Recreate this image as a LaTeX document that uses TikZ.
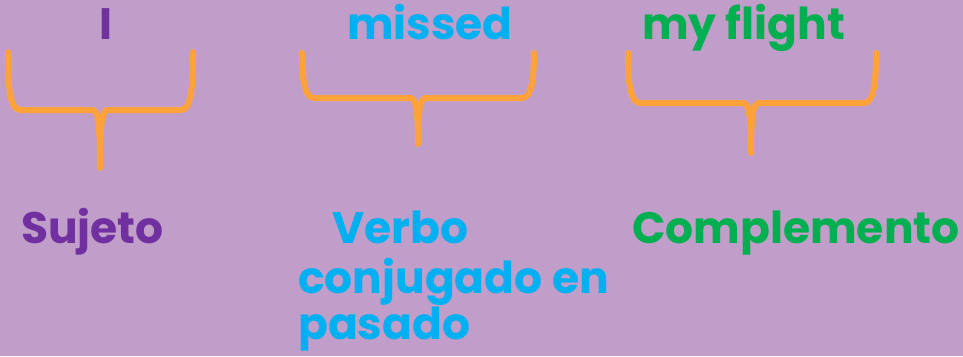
\documentclass[tikz,border=0pt]{standalone}
\usepackage{fontspec}
\setmainfont{Poppins}
\usepackage{tikz}
\definecolor{sentbg}{HTML}{C19DC9}
\definecolor{braceorange}{HTML}{FFA239}
\definecolor{subjpurple}{HTML}{7030A0}
\definecolor{verbblue}{HTML}{00B0F0}
\definecolor{complgreen}{HTML}{00B050}
% brace: left x, top y, right x, bar y, centre x, tip y
\newcommand{\sentbrace}[6]{%
  \draw[bracewire] (#1,#2) .. controls (#1,#4-22) and (#1+2,#4) .. (#1+12,#4)
    -- (#5-8,#4) .. controls (#5-2,#4) and (#5,#4+12) .. (#5,#6)
    .. controls (#5,#4+12) and (#5+2,#4) .. (#5+8,#4)
    -- (#3-12,#4) .. controls (#3-2,#4) and (#3,#4-22) .. (#3,#2);}

\begin{document}
\begin{tikzpicture}[
    x=1pt, y=-1pt,
    bracewire/.style={draw=braceorange, line width=6pt, line cap=round, line join=round},
    wordtext/.style={anchor=base west, inner sep=0pt, font=\bfseries\fontsize{44}{42}\selectfont},
    roletext/.style={anchor=base west, inner sep=0pt, align=left, font=\bfseries\fontsize{44}{42}\selectfont}
]
  \fill[sentbg] (0,0) rectangle (963,356);
  \useasboundingbox (0,0) rectangle (963,356);
  % words of the sentence
  \node[wordtext, text=subjpurple] (wI) at (99,39) {I};
  \node[wordtext, text=verbblue] (wmissed) at (347,39) {missed};
  \node[wordtext, text=complgreen] (wflight) at (642,39) {my flight};
  % braces
  \sentbrace{8}{52}{193}{110}{100}{168}
  \sentbrace{302}{53}{534}{98}{418}{144}
  \sentbrace{628}{53}{876}{103}{751}{153}
  % grammatical roles
  \node[roletext, text=subjpurple] (rsubj) at (21,243) {Sujeto};
  \node[roletext, text=verbblue] (rverb) at (332,243) {Verbo};
  \node[roletext, text=verbblue] (rverb2) at (298,339) {conjugado en\\[0pt]pasado};
  \node[roletext, text=complgreen] (rcompl) at (632,243) {Complemento};
\end{tikzpicture}
\end{document}
